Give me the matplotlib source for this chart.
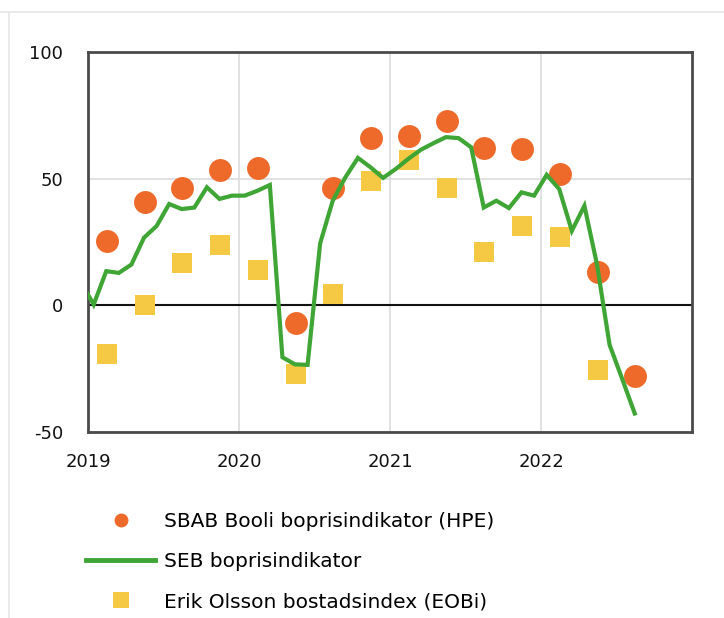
import matplotlib
matplotlib.use("Agg")
import matplotlib.pyplot as plt
from matplotlib.lines import Line2D

plt.rcParams["axes.unicode_minus"] = False

# ---- data ----
# Quarterly series (mid-quarter), from 2019 Q1
quarter_index = list(range(15))
sbab_hpe = [25.4, 40.9, 46.4, 53.6, 54.4, -7.0, 46.4, 66.0, 67.0, 72.6, 62.3, 61.9, 52.0, 13.0, -27.8]
erik_olsson = [-19.4, 0.0, 16.7, 24.0, 13.9, -27.0, 4.4, 49.2, 57.5, 46.3, 21.0, 31.3, 27.0, -25.4]

# Monthly series (mid-month), starting Dec 2018 (index -1)
month_index = list(range(-1, 44))
seb = [9.0,
       0.3, 13.5, 12.8, 16.1, 26.7, 31.3, 40.0, 38.0, 38.6, 46.6, 42.0, 43.3,
       43.3, 45.2, 47.5, -20.5, -23.3, -23.5, 24.5, 41.3, 50.5, 58.2, 54.5, 50.3,
       53.8, 57.8, 61.4, 64.0, 66.4, 66.0, 62.4, 38.6, 41.3, 38.4, 44.6, 43.3,
       51.5, 45.9, 29.4, 39.3, 16.1, -15.6, -29.0, -42.7]

year_ticks = [2019, 2020, 2021, 2022]
y_ticks = [-50, 0, 50, 100]

labels = ["SBAB Booli boprisindikator (HPE)", "SEB boprisindikator", "Erik Olsson bostadsindex (EOBi)"]

# ---- derived x positions ----
xq_sbab = [2019 + (q + 0.5) / 4 for q in quarter_index]
xq_eo = [2019 + (q + 0.5) / 4 for q in quarter_index[:len(erik_olsson)]]
xm = [2019 + (m + 0.45) / 12 for m in month_index]

orange = "#EE6A2A"
green = "#3FA535"
yellow = "#F6C944"

fig = plt.figure(figsize=(7.24, 6.18), dpi=100)
ax = fig.add_axes([88 / 724, 1 - 432 / 618, (692 - 88) / 724, (432 - 52) / 618])

ax.set_xlim(2019, 2023)
ax.set_ylim(-50, 100)
ax.set_xticks(year_ticks)
ax.set_xticklabels([str(y) for y in year_ticks])
ax.set_yticks(y_ticks)
ax.grid(True, color="#dcdcdc", linewidth=1.2)
ax.set_axisbelow(True)
ax.axhline(0, color="#111111", linewidth=1.5, zorder=1.5)

l_sbab, = ax.plot(xq_sbab, sbab_hpe, linestyle="none", marker="o", markersize=16.5,
                  color=orange, markeredgewidth=0, label=labels[0], zorder=3)
l_seb, = ax.plot(xm, seb, color=green, linewidth=3, label=labels[1], zorder=4,
                 solid_joinstyle="miter")
l_eo, = ax.plot(xq_eo, erik_olsson, linestyle="none", marker="s", markersize=15,
                color=yellow, markeredgewidth=0, label=labels[2], zorder=2)

for s in ax.spines.values():
    s.set_color("#4a4a4a")
    s.set_linewidth(2)

ax.tick_params(length=0, labelsize=13, colors="#111111")
ax.tick_params(axis="y", pad=18)
ax.tick_params(axis="x", pad=15)

leg_sbab = Line2D([], [], linestyle="none", marker="o", markersize=10, color=orange, markeredgewidth=0)
leg_seb = Line2D([], [], color=green, linewidth=3.5)
leg_eo = Line2D([], [], linestyle="none", marker="s", markersize=11, color=yellow, markeredgewidth=0)
fig.legend([leg_sbab, leg_seb, leg_eo], labels, loc="upper left",
           bbox_to_anchor=(86 / 724, 1 - 512 / 618), frameon=False,
           fontsize=14.5, handlelength=3.45, handletextpad=0.4, labelspacing=1.05,
           borderpad=0, borderaxespad=0)

# faint outer frame lines
fig.add_artist(Line2D([0, 1], [1 - 12 / 618, 1 - 12 / 618], color="#e6e6e6", linewidth=1.2,
                      transform=fig.transFigure))
fig.add_artist(Line2D([9 / 724, 9 / 724], [0, 1 - 12 / 618], color="#e6e6e6", linewidth=1.2,
                      transform=fig.transFigure))

fig.savefig("out.png", dpi=100)
